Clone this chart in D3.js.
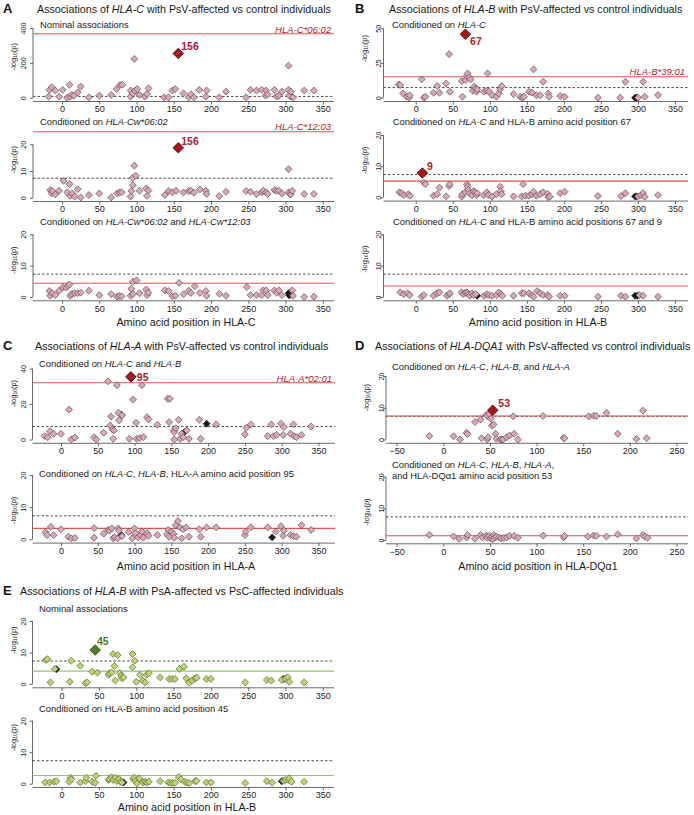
<!DOCTYPE html>
<html>
<head>
<meta charset="utf-8">
<script src="https://cdn.jsdelivr.net/npm/d3@7"></script>
<style>
  body { margin: 0; background: #fff; }
  svg { font-family: "Liberation Sans", Arial, sans-serif; }
</style>
</head>
<body>
<svg id="chart" width="694" height="815"></svg>
<script>
// genome-wide significance, -log10(5e-8)
var gwsThreshold = 7.3;

// ---- A: HLA-C, PsV-affected vs control ----
var a1Points = [[-18,6],[-17,45],[-14,60],[-9,41],[-4,6],[1,45],[7,0],[10,74],[11,6],[13,16],[16,12],[21,31],[25,64],[36,2],[50,12],[66,16],[73,49],[78,74],[81,74],[92,6],[92,41],[95,25],[97,223],[98,41],[101,50],[104,16],[111,6],[114,21],[116,54],[137,2],[143,2],[148,41],[152,50],[163,25],[170,2],[173,19],[177,2],[184,45],[193,6],[194,41],[211,2],[220,35],[247,2],[253,45],[261,41],[268,45],[273,12],[274,41],[276,19],[285,45],[288,6],[291,12],[295,35],[304,184],[304,45],[305,12],[307,35],[310,2],[325,41],[338,41]];
var a1Dark = [[308,6]];
var a1Lead = [156, 254];
var a1Line = 367;

var a2Points = [[-16,2.9],[-14,1.6],[-13,2.5],[-9,1.2],[-4,2.6],[2,6.3],[7,2],[10,5.1],[11,0.7],[14,1.6],[17,0.4],[21,3.2],[25,0.1],[36,1],[50,1.6],[66,0.1],[74,1.6],[77,2],[80,2],[92,0.4],[93,2.5],[95,4.7],[95,7.5],[97,12],[99,8.2],[104,2.6],[113,3.5],[114,0.7],[116,2.7],[138,1],[143,2.5],[148,2],[153,2.6],[163,2],[170,2.5],[173,2.6],[177,1.9],[185,3.1],[193,2.6],[194,1.4],[211,0.6],[220,2.2],[247,2.5],[253,2.2],[261,1.4],[268,2],[270,2.6],[274,2],[276,1.4],[285,2.9],[288,2.6],[291,2.6],[295,1.6],[304,10.7],[304,2],[306,1.4],[307,1.2],[309,2.6],[325,1.4],[338,1.4]];
var a2Dark = [];
var a2Lead = [156, 18.7];
var a2Line = 24.7;

var a3Points = [[-17,1.9],[-16,0.4],[-13,1.2],[-9,0.6],[-4,2],[1,3.1],[5,3],[8,3.5],[10,4],[11,0.4],[13,1],[17,1.2],[21,1.2],[25,1.4],[36,2],[50,0.6],[66,0.9],[74,0.1],[77,0.3],[80,0.2],[92,0.4],[93,2.6],[95,4.9],[95,0.9],[100,5.3],[104,1.2],[113,2.4],[114,0.6],[116,1.4],[138,2.1],[143,1.9],[148,0.3],[152,0.4],[157,4.5],[163,0.9],[170,2],[173,1.3],[178,3.4],[185,1.3],[193,1.9],[194,0.4],[211,1],[220,0.4],[248,3.2],[253,0.6],[261,0.6],[268,0.6],[270,2.1],[274,2.1],[276,0.6],[285,2.1],[288,1.4],[291,2.1],[295,0.6],[309,2.1],[310,0.4],[325,0],[338,0.1]];
var a3Dark = [[304,1.2],[305,0.5],[306,1.5]];
var a3Line = 4.4;

// ---- B: HLA-B, PsV-affected vs control ----
var b1Points = [[-23,9.6],[-21,9.1],[-17,3.1],[-12,0.7],[-9,0],[-8,1.7],[8,13.2],[11,0],[13,0.7],[24,3.6],[29,8.4],[32,3.6],[41,10.3],[45,31.3],[46,4.3],[62,12],[63,0.7],[67,12.7],[69,15.6],[70,17.5],[72,14.7],[74,13.2],[77,5],[79,8],[81,6.7],[82,4.3],[83,6],[92,4.3],[96,5],[97,17.5],[99,4.3],[103,1.9],[109,0.7],[112,3.1],[114,6],[116,8.4],[132,2.6],[141,0.7],[144,0],[146,0.7],[153,4.3],[157,3.6],[159,20.4],[163,1.7],[168,1.7],[172,11.5],[179,3.1],[180,0.7],[195,1.2],[201,0.7],[246,0],[276,0],[283,11.5],[300,0],[307,11.5],[309,0.7],[327,1.9]];
var b1Dark = [[296,0],[298,0]];
var b1Lead = [67, 45.7];
var b1Line = 15.1;

var b2Points = [[-22,1.6],[-19,1.3],[-16,0.7],[-10,1],[-8,0.5],[11,4.7],[13,4.2],[24,0.5],[29,1],[32,3.1],[41,0.3],[45,3.6],[46,4.2],[62,0.2],[63,1],[67,1.6],[69,4.2],[70,3.4],[71,2.4],[73,1.3],[76,0.7],[78,2],[80,1.6],[82,0.7],[83,1.3],[92,0.7],[96,1.6],[98,0.7],[103,0.2],[109,1],[114,3.4],[115,2],[116,1],[132,0.3],[143,0.3],[145,4.2],[148,0.5],[153,0.5],[157,1],[159,1.8],[163,0.5],[168,1],[172,1.6],[178,1.1],[179,0],[181,0.2],[195,1.3],[201,1.8],[246,0.4],[277,0.4],[283,1.3],[300,0.3],[304,0.7],[307,1.3],[309,0.2],[327,0.7]];
var b2Dark = [[296,0.3],[298,0.3]];
var b2Lead = [9, 7.8];
var b2Line = 5.2;

var b3Points = [[-21,1.5],[-16,0.9],[-11,1.2],[-8,0.6],[8,0.1],[11,0.6],[24,0.4],[29,1.2],[32,1.5],[42,0.4],[45,0.9],[46,1.2],[62,1.5],[64,0.9],[67,1.4],[69,1.5],[71,0.9],[73,0.4],[76,1.2],[78,0.6],[81,0.9],[92,0.4],[96,0.9],[99,0.6],[103,0.4],[109,0.6],[112,1.5],[115,0.9],[117,0.4],[132,0.4],[143,1.2],[146,1.2],[153,1.2],[157,0.6],[159,0.1],[164,1.9],[168,1.2],[172,0.6],[178,0.6],[180,0.1],[195,0.4],[201,0.4],[246,0.1],[277,0.4],[283,0.1],[302,0.6],[307,0.4],[327,0.1]];
var b3Dark = [[83,0.4],[296,0.4],[299,0.4]];
var b3Line = 3.5;

// ---- C: HLA-A, PsV-affected vs control ----
var c1Points = [[-22,1.9],[-18,1.3],[-15,4.7],[-10,3.2],[0,3.2],[11,16.8],[14,0],[19,1.1],[45,1.3],[48,0],[58,3.8],[64,32.8],[67,7.9],[68,13],[70,5.7],[71,0.4],[72,5.1],[76,30.6],[78,15.1],[79,10.8],[83,13.6],[93,0.4],[98,22.5],[102,9.4],[103,0.4],[107,0.8],[110,30.6],[112,1.3],[117,12.6],[119,11.3],[131,8.3],[145,23],[148,23],[147,9.8],[153,5.1],[154,0],[154,4.2],[156,6.4],[160,11.1],[162,0.4],[164,3.2],[166,1.3],[171,5.1],[174,0.4],[188,11.1],[190,0.4],[211,8.5],[250,2.8],[252,6.6],[258,8.5],[281,1.9],[286,8.5],[289,1.9],[293,2.6],[299,8.9],[302,2.6],[303,7],[312,3.2],[316,8.5],[317,1.9],[320,1.3],[327,2.6],[340,7.4]];
var c1Dark = [[82,14],[168,4.2],[198,8.9]];
var c1Lead = [95, 35.3];
var c1Line = 32;

var c2Points = [[-21,2.2],[-19,1.3],[-14,3.9],[-10,1.3],[0,3.1],[10,0.8],[14,0.3],[19,0.4],[45,3.5],[45,0.5],[58,1.7],[64,2.9],[66,2.7],[69,3.4],[71,0.3],[73,0.6],[77,0.3],[78,3.4],[79,2.7],[83,1],[92,2.3],[97,0.3],[100,3.4],[101,1.9],[105,0.6],[108,1.3],[110,2.4],[112,0.5],[117,1.9],[119,1.1],[131,1.3],[144,1.6],[146,2.9],[147,0.8],[150,2.4],[153,1.6],[154,0.5],[156,4.4],[159,5.7],[162,3.7],[164,0.3],[166,3.1],[170,3.7],[174,0.8],[188,3.1],[190,0.8],[198,3.7],[211,3.7],[250,1.3],[251,2.4],[258,3.7],[281,3.7],[292,2.4],[299,4.1],[302,1.1],[303,2.7],[312,1.3],[316,1],[320,0.8],[327,4.4],[340,2.9]];
var c2Dark = [[82,1.3],[287,0.6]];
var c2Line = 3.4;

// ---- D: HLA-DQA1, PsV-affected vs control ----
var d1Points = [[-15,1.1],[11,1],[18,0],[25,2.1],[26,1.7],[34,5.5],[40,6.3],[41,0.4],[46,7.8],[47,7.4],[47,0],[48,0.7],[49,8],[51,6.6],[52,4.4],[54,4.7],[56,1.8],[57,0.2],[61,0],[62.5,0],[64,0],[68,0.7],[71,1.3],[75,7.3],[76,1.8],[80,0],[107,7.4],[129,0.5],[130,0.4],[156,7.3],[161,7.5],[164,7.4],[175,8.4],[187,1.8],[207,0.2],[214,9.1],[218,0.4]];
var d1Lead = [53, 9.2];
var d1Line = 7.4;

var d2Points = [[-15,1.6],[11,1.1],[17,0.4],[25,0.8],[26,1.6],[34,0.4],[40,1.6],[42,0.8],[46,1.4],[47,0.7],[49,1.3],[51,0.5],[52,1.1],[53,0.2],[54,1.6],[55,0.7],[57,1.1],[60,0.8],[62,0.5],[65,0.7],[68,0.8],[71,1.3],[76,1.3],[80,0.7],[107,1.4],[129,0.8],[130,1.3],[155,1.1],[161,1.4],[164,1.3],[175,1.1],[187,1.8],[207,0.5],[214,1.6],[216,1.1],[219,0.7]];
var d2Line = 1.35;

// ---- E: HLA-B, PsA-affected vs PsC-affected ----
var e1Points = [[-21,7.6],[-19,7.9],[-15,0.5],[-9,4.8],[11,0.7],[13,7.4],[25,5.8],[32,0.2],[34,0.5],[41,3.9],[48,3.6],[63,2.9],[64,3.4],[67,3.7],[69,9.5],[71,5.7],[72,1.1],[75,9.2],[78,3.4],[80,2.5],[81,1.8],[83,2.1],[95,5.3],[95,9.5],[98,7.4],[100,0.7],[105,2.9],[109,1.1],[112,0.5],[114,2.9],[117,3.4],[132,2.1],[144,1.6],[148,1.6],[152,1.6],[158,4.8],[164,5.5],[167,1.8],[171,0.4],[175,1.1],[179,1.8],[181,2],[194,1.6],[200,1.6],[246,0.5],[275,1.3],[281,1.1],[295,1.3],[300,1.8],[303,2.1],[305,0.7],[325,0.5]];
var e1Dark = [[-7,4.7],[297,1.6]];
var e1Lead = [45, 10.8];
var e1Line = 4.1;

var e2Points = [[-22,0.4],[-16,0.4],[-10,0.6],[-7,0.8],[10,0.6],[12,1.9],[13,1.4],[25,0.4],[32,0.8],[33,1.9],[41,0.6],[45,0.3],[46,2.5],[63,1.2],[64,1.5],[67,2],[69,1.2],[72,1.9],[74,0.8],[77,1.5],[79,0.6],[81,0.4],[96,1.5],[97,1.9],[99,0.8],[101,0.1],[104,1.7],[109,0.4],[112,0.6],[114,0.4],[117,0.6],[132,0.8],[143,0.4],[146,0.2],[149,0.2],[152,0.3],[157,2.1],[160,1.4],[165,0.6],[168,0.3],[171,0.2],[179,0.8],[181,0.9],[194,0.4],[200,0.4],[246,0.2],[275,0.8],[282,0.3],[297,0.9],[300,1.2],[304,1.2],[305,1.7],[308,0.6],[325,0.6]];
var e2Dark = [[83,0.4],[295,0.8]];
var e2Line = 2.6;

var ticks0to350 = [0, 50, 100, 150, 200, 250, 300, 350];
var ticksDQA = [-50, 0, 50, 100, 150, 200, 250];

// ---------------- styles ----------------
var themes = {
  red:   { fill: "#dba6b7", stroke: "#4d4347", lead: "#a3171e", leadStroke: "#5a0a0d", label: "#b0222a", line: "#e2544f" },
  green: { fill: "#bcd473", stroke: "#4b5a2a", lead: "#4e7c2b", leadStroke: "#2c4516", label: "#4a7a2a", line: "#8fc47a" }
};

function it(s) { return [s, true]; }
function rm(s) { return [s, false]; }

var panels = [
  { letter: "A", lx: 3, tx: 37, ty: 13, title: [rm("Associations of "), it("HLA-C"), rm(" with PsV-affected vs control individuals")] },
  { letter: "B", lx: 355, tx: 389, ty: 13, title: [rm("Associations of "), it("HLA-B"), rm(" with PsV-affected vs control individuals")] },
  { letter: "C", lx: 3, tx: 35, ty: 350, title: [rm("Associations of "), it("HLA-A"), rm(" with PsV-affected vs control individuals")] },
  { letter: "D", lx: 355, tx: 375, ty: 350, title: [rm("Associations of "), it("HLA-DQA1"), rm(" with PsV-affected vs control individuals")] },
  { letter: "E", lx: 3, tx: 20, ty: 595, title: [rm("Associations of "), it("HLA-B"), rm(" with PsA-affected vs PsC-affected individuals")] }
];

var colA = { left: 33, right: 334, xDomain: [-39, 365], xTicks: ticks0to350, tickOff: 9.5, ylabX: 13 };
var colB = { left: 383.5, right: 688, xDomain: [-43.5, 367.5], xTicks: ticks0to350, tickOff: 5, ylabX: 364 };
var colC = { left: 32.5, right: 335, xDomain: [-38.7, 372.5], xTicks: ticks0to350, tickOff: 9.5, ylabX: 13 };
var colD = { left: 386, right: 688, xDomain: [-61.4, 262.3], xTicks: ticksDQA, tickOff: 5, ylabX: 366 };
var colE = { left: 32.5, right: 334, xDomain: [-39, 365], xTicks: ticks0to350, tickOff: 9.5, ylabX: 13 };

var subplots = [
  { col: colA, pts: a1Points, dark: a1Dark, lead: a1Lead, leadText: "156", ldx: 3, ldy: -7.3, line: a1Line, lineText: "HLA-C*06:02", lineTextY: 32.5,
    y0: 97.7, yTopVal: 400, yTopPx: 28, yTicks: [0, 200, 400], sub: [[rm("Nominal associations")]], subY: 28, subX: 40, ylabOff: 41, theme: "red" },
  { col: colA, pts: a2Points, dark: a2Dark, lead: a2Lead, leadText: "156", ldx: 3, ldy: -6.7, line: a2Line, lineText: "HLA-C*12:03", lineTextY: 129.5,
    y0: 197.7, yTopVal: 20, yTopPx: 144.3, yTicks: [0, 10, 20], sub: [[rm("Conditioned on "), it("HLA-Cw*06:02")]], subY: 125, subX: 40, ylabOff: 38, theme: "red" },
  { col: colA, pts: a3Points, dark: a3Dark, line: a3Line,
    y0: 297, yTopVal: 20, yTopPx: 234.3, yTicks: [0, 10, 20], sub: [[rm("Conditioned on "), it("HLA-Cw*06:02"), rm(" and "), it("HLA-Cw*12:03")]], subY: 225, subX: 40, ylabOff: 37, theme: "red",
    xTitle: "Amino acid position in HLA-C", xTitleX: 186, xTitleY: 326 },

  { col: colB, pts: b1Points, dark: b1Dark, lead: b1Lead, leadText: "67", ldx: 4.7, ldy: 7.4, line: b1Line, lineText: "HLA-B*39:01", lineTextY: 74.5,
    y0: 97.7, yTopVal: 50, yTopPx: 28.3, yTicks: [0, 25, 50], sub: [[rm("Conditioned on "), it("HLA-C")]], subY: 28, subX: 392, ylabOff: 49, theme: "red" },
  { col: colB, pts: b2Points, dark: b2Dark, lead: b2Lead, leadText: "9", ldx: 4.6, ldy: -7, line: b2Line,
    y0: 197.3, yTopVal: 20, yTopPx: 135, yTicks: [0, 10, 20], sub: [[rm("Conditioned on "), it("HLA-C"), rm(" and HLA-B amino acid position 67")]], subY: 125, subX: 392.7, ylabOff: 37, theme: "red", italicP: true },
  { col: colB, pts: b3Points, dark: b3Dark, line: b3Line,
    y0: 297, yTopVal: 20, yTopPx: 234.3, yTicks: [0, 10, 20], sub: [[rm("Conditioned on "), it("HLA-C"), rm(" and HLA-B amino acid positions 67 and 9")]], subY: 225, subX: 393, ylabOff: 38, theme: "red",
    xTitle: "Amino acid position in HLA-B", xTitleX: 538, xTitleY: 326 },

  { col: colC, pts: c1Points, dark: c1Dark, lead: c1Lead, leadText: "95", ldx: 6, ldy: 0, line: c1Line, lineText: "HLA-A*02:01", lineTextY: 381.5,
    y0: 439.5, yTopVal: 40, yTopPx: 368.5, yTicks: [0, 20, 40], sub: [[rm("Conditioned on "), it("HLA-C"), rm(" and "), it("HLA-B")]], subY: 367, subX: 39, ylabOff: 46, theme: "red" },
  { col: colC, pts: c2Points, dark: c2Dark, line: c2Line,
    y0: 539.3, yTopVal: 20, yTopPx: 475, yTicks: [0, 10, 20], sub: [[rm("Conditioned on "), it("HLA-C"), rm(", "), it("HLA-B"), rm(", HLA-A amino acid position 95")]], subY: 477, subX: 39, ylabOff: 29, theme: "red", italicP: true,
    xTitle: "Amino acid position in HLA-A", xTitleX: 186, xTitleY: 570 },

  { col: colD, pts: d1Points, dark: [], lead: d1Lead, leadText: "53", ldx: 5.6, ldy: -6.7, line: d1Line,
    y0: 439.5, yTopVal: 20, yTopPx: 376, yTicks: [0, 10, 20], sub: [[rm("Conditioned on "), it("HLA-C"), rm(", "), it("HLA-B,"), rm(" and "), it("HLA-A")]], subY: 369.5, subX: 392, ylabOff: 42, theme: "red" },
  { col: colD, pts: d2Points, dark: [], line: d2Line,
    y0: 540, yTopVal: 20, yTopPx: 476.7, yTicks: [0, 10, 20], sub: [[rm("Conditioned on "), it("HLA-C"), rm(", "), it("HLA-B"), rm(", "), it("HLA-A"), rm(",")], [rm("and HLA-DQ\u03b11 amino acid position 53")]], subY: 467.5, subX: 392, ylabOff: 28, theme: "red", italicP: true,
    xTitle: "Amino acid position in HLA-DQ\u03b11", xTitleX: 538, xTitleY: 570 },

  { col: colE, pts: e1Points, dark: e1Dark, lead: e1Lead, leadText: "45", ldx: 1.7, ldy: -8.3, line: e1Line,
    y0: 684, yTopVal: 20, yTopPx: 621, yTicks: [0, 10, 20], sub: [[rm("Nominal associations")]], subY: 612, subX: 39, ylabOff: 44, theme: "green" },
  { col: colE, pts: e2Points, dark: e2Dark, line: e2Line,
    y0: 783.7, yTopVal: 20, yTopPx: 720.7, yTicks: [0, 10, 20], sub: [[rm("Conditioned on HLA-B amino acid position 45")]], subY: 712, subX: 39, ylabOff: 46, theme: "green",
    xTitle: "Amino acid position in HLA-B", xTitleX: 187, xTitleY: 811 }
];

var svg = d3.select("#chart");

function richText(g, x, y, parts, size, color) {
  var t = g.append("text").attr("x", x).attr("y", y)
    .attr("font-size", size).attr("fill", color || "#1a1a1a");
  parts.forEach(function(p) {
    t.append("tspan").attr("font-style", p[1] ? "italic" : "normal").text(p[0]);
  });
  return t;
}

// panel headings
panels.forEach(function(p) {
  svg.append("text").attr("x", p.lx).attr("y", p.ty)
    .attr("font-size", 13).attr("font-weight", "bold").attr("fill", "#111").text(p.letter);
  richText(svg, p.tx, p.ty, p.title, 10.7, "#1a1a1a");
});

var diamond = d3.symbol().type(d3.symbolSquare);

subplots.forEach(function(s) {
  var c = s.col;
  var th = themes[s.theme];
  var x = d3.scaleLinear().domain(c.xDomain).range([c.left, c.right]);
  var y = d3.scaleLinear().domain([0, s.yTopVal]).range([s.y0, s.yTopPx]);
  var axisY = s.y0 + 3.8;
  var g = svg.append("g");

  // x axis
  var gx = g.append("g").attr("transform", "translate(0," + axisY + ")")
    .call(d3.axisBottom(x).tickValues(c.xTicks).tickSize(3).tickPadding(1.5).tickFormat(d3.format("d")));
  gx.select(".domain").remove();
  gx.selectAll("line").attr("stroke", "#444").attr("stroke-width", 0.8);
  gx.selectAll("text").attr("font-size", 9).attr("fill", "#222").attr("font-family", "Liberation Sans, Arial, sans-serif");
  g.append("line").attr("x1", c.left).attr("x2", c.right).attr("y1", axisY).attr("y2", axisY)
    .attr("stroke", "#444").attr("stroke-width", 0.8);

  // y axis, labels rotated
  var gy = g.append("g").attr("transform", "translate(" + c.left + ",0)")
    .call(d3.axisLeft(y).tickValues(s.yTicks).tickSize(3).tickFormat(d3.format("d")));
  gy.select(".domain").remove();
  gy.selectAll("line").attr("stroke", "#444").attr("stroke-width", 0.8);
  gy.selectAll("text")
    .attr("font-size", 7.2).attr("fill", "#222").attr("font-family", "Liberation Sans, Arial, sans-serif")
    .attr("text-anchor", "middle").attr("x", null).attr("dy", null)
    .attr("transform", "translate(" + (-c.tickOff + 2.5) + ",0) rotate(-90)");
  g.append("line").attr("x1", c.left).attr("x2", c.left)
    .attr("y1", y(0)).attr("y2", y(s.yTicks[s.yTicks.length - 1]))
    .attr("stroke", "#444").attr("stroke-width", 0.8);

  // y label
  var yl = g.append("text")
    .attr("transform", "translate(" + (c.ylabX + 2.6) + "," + (s.y0 - s.ylabOff) + ") rotate(-90)")
    .attr("text-anchor", "middle").attr("font-size", 7.5).attr("fill", "#222");
  yl.append("tspan").text("-log");
  yl.append("tspan").attr("font-size", 5).attr("dy", 1.5).text("10");
  yl.append("tspan").attr("dy", -1.5).text("(");
  yl.append("tspan").attr("font-style", s.italicP ? "italic" : "normal").text("p");
  yl.append("tspan").text(")");

  // reference lines
  g.append("line").attr("x1", c.left).attr("x2", c.right)
    .attr("y1", y(gwsThreshold)).attr("y2", y(gwsThreshold))
    .attr("stroke", "#222").attr("stroke-width", 0.8).attr("stroke-dasharray", "2.5,2");
  g.append("line").attr("x1", c.left).attr("x2", c.right)
    .attr("y1", y(s.line)).attr("y2", y(s.line))
    .attr("stroke", th.line).attr("stroke-width", 1.1);
  if (s.lineText) {
    g.append("text").attr("x", c.right - 3).attr("y", s.lineTextY)
      .attr("text-anchor", "end").attr("font-size", 9.5).attr("font-style", "italic")
      .attr("fill", th.label).text(s.lineText);
  }

  // subtitle
  s.sub.forEach(function(line, i) {
    richText(g, s.subX, s.subY + i * 11, line, 9.4, "#1a1a1a");
  });

  // points
  g.append("g").selectAll("path.dark").data(s.dark || []).join("path")
    .attr("class", "dark")
    .attr("d", diamond.size(24))
    .attr("transform", function(d) { return "translate(" + x(d[0]) + "," + y(d[1]) + ") rotate(45)"; })
    .attr("fill", "#1a1a1a").attr("stroke", "#111").attr("stroke-width", 0.6);
  g.append("g").selectAll("path.pt").data(s.pts).join("path")
    .attr("class", "pt")
    .attr("d", diamond.size(24))
    .attr("transform", function(d) { return "translate(" + x(d[0]) + "," + y(d[1]) + ") rotate(45)"; })
    .attr("fill", th.fill).attr("stroke", th.stroke).attr("stroke-width", 0.6);

  if (s.lead) {
    var lx = x(s.lead[0]), ly = y(s.lead[1]);
    g.append("path").attr("d", diamond.size(56))
      .attr("transform", "translate(" + lx + "," + ly + ") rotate(45)")
      .attr("fill", th.lead).attr("stroke", th.leadStroke).attr("stroke-width", 0.8);
    g.append("text").attr("x", lx + s.ldx).attr("y", ly + s.ldy + 3.7)
      .attr("font-size", 10.5).attr("font-weight", "bold").attr("fill", th.label)
      .text(s.leadText);
  }

  if (s.xTitle) {
    g.append("text").attr("x", s.xTitleX).attr("y", s.xTitleY)
      .attr("text-anchor", "middle").attr("font-size", 10.7).attr("fill", "#1a1a1a")
      .text(s.xTitle);
  }
});
</script>
</body>
</html>
